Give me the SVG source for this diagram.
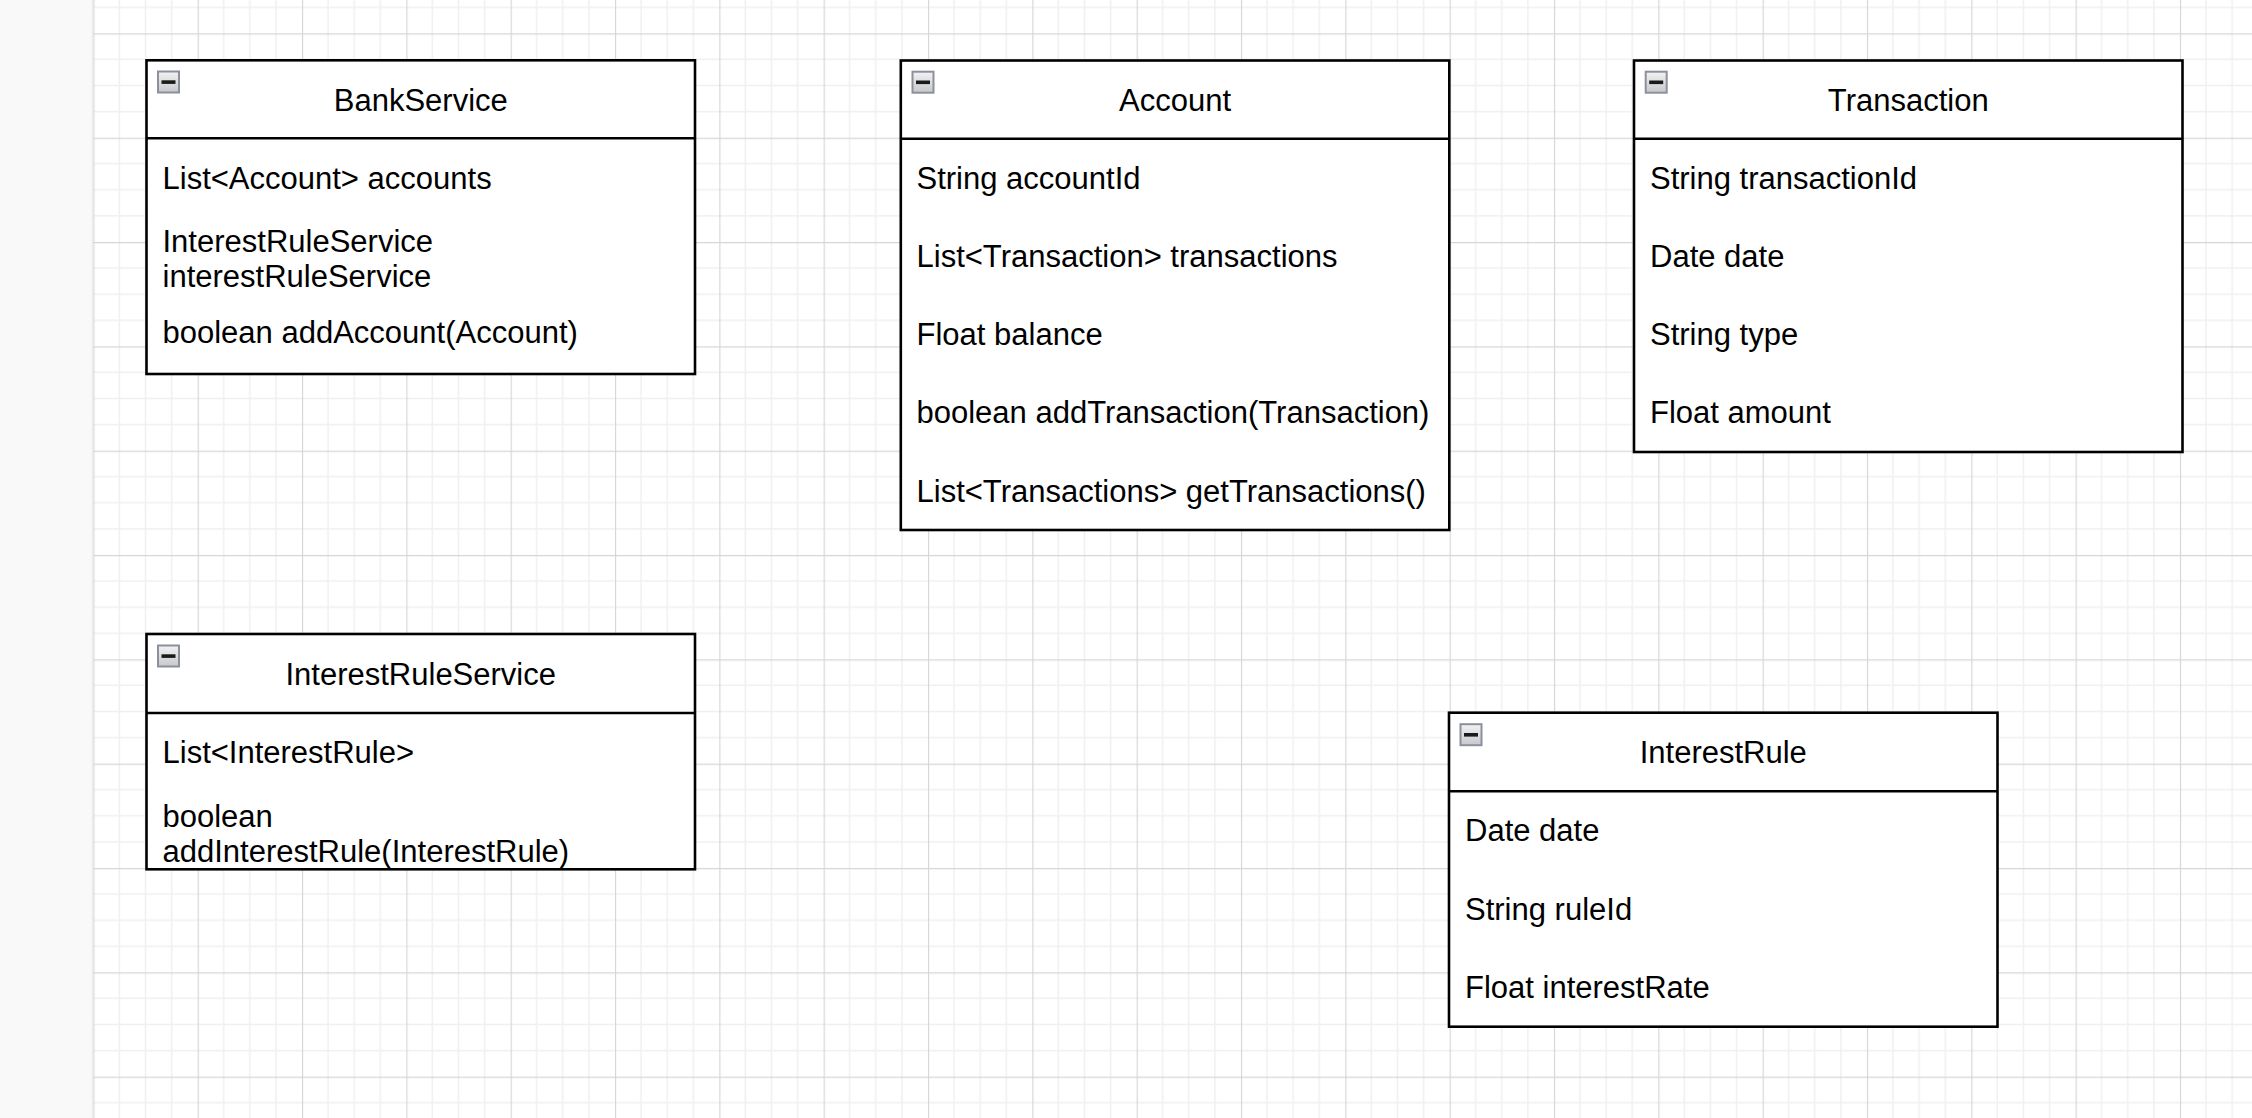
<svg xmlns="http://www.w3.org/2000/svg" xmlns:xlink="http://www.w3.org/1999/xlink" width="2252" height="1118" viewBox="0 0 2252 1118">
<style>
.box{fill:#ffffff;stroke:#000000;stroke-width:2.6}
.div{stroke:#000000;stroke-width:2.6}
.t{font-family:"Liberation Sans",Arial,Helvetica,sans-serif;font-size:31px;fill:#000000}
.title{text-anchor:middle}
</style>
<defs>
<pattern id="grid" patternUnits="userSpaceOnUse" x="93.33" y="33.33" width="104.33" height="104.33">
<path d="M26.08 0V104.33M52.17 0V104.33M78.25 0V104.33M0 26.08H104.33M0 52.17H104.33M0 78.25H104.33" stroke="#f0f0f0" stroke-width="1.6" fill="none"/>
<path d="M0.5 0V104.33M0 0.5H104.33" stroke="#d6d6d6" stroke-width="1.3" fill="none"/>
</pattern>
<linearGradient id="btn" x1="0" y1="0" x2="0" y2="1">
<stop offset="0" stop-color="#f2f2f4"/>
<stop offset="1" stop-color="#c6c8cc"/>
</linearGradient>
<g id="collapse">
<rect x="1" y="1" width="21" height="21" fill="url(#btn)" stroke="#8c909a" stroke-width="2"/>
<rect x="4.5" y="9.8" width="14" height="3.6" fill="#1a1a1a"/>
</g>
</defs>
<rect x="0" y="0" width="2252" height="1118" fill="#ffffff"/>
<rect x="0" y="0" width="92.5" height="1118" fill="#f9f9f9"/>
<rect x="92.5" y="0" width="2159.5" height="1118" fill="url(#grid)"/>
<line x1="92.5" y1="0" x2="92.5" y2="1118" stroke="#ececec" stroke-width="1.5"/>

<g id="connectors"></g>

<g id="BankService">
<rect class="box" x="146.5" y="60.3" width="548.5" height="313.7"/>
<line class="div" x1="146.5" y1="138.3" x2="695" y2="138.3"/>
<use xlink:href="#collapse" x="157" y="70.5"/>
<text class="t title" x="420.75" y="110.5">BankService</text>
<text class="t" x="162.5" y="189.3">List&lt;Account&gt; accounts</text>
<text class="t" x="162.5" y="252.3">InterestRuleService</text>
<text class="t" x="162.5" y="287.3">interestRuleService</text>
<text class="t" x="162.5" y="343.3">boolean addAccount(Account)</text>
</g>

<g id="Account">
<rect class="box" x="900.8" y="60.5" width="548.5" height="469.5"/>
<line class="div" x1="900.8" y1="138.7" x2="1449.3" y2="138.7"/>
<use xlink:href="#collapse" x="911.5" y="70.7"/>
<text class="t title" x="1175" y="110.7">Account</text>
<text class="t" x="916.5" y="188.8">String accountId</text>
<text class="t" x="916.5" y="267">List&lt;Transaction&gt; transactions</text>
<text class="t" x="916.5" y="345.2">Float balance</text>
<text class="t" x="916.5" y="423.4">boolean addTransaction(Transaction)</text>
<text class="t" x="916.5" y="501.6">List&lt;Transactions&gt; getTransactions()</text>
</g>

<g id="Transaction">
<rect class="box" x="1634" y="60.5" width="548.5" height="391.5"/>
<line class="div" x1="1634" y1="138.7" x2="2182.5" y2="138.7"/>
<use xlink:href="#collapse" x="1644.7" y="70.7"/>
<text class="t title" x="1908.25" y="110.7">Transaction</text>
<text class="t" x="1650" y="188.8">String transactionId</text>
<text class="t" x="1650" y="267">Date date</text>
<text class="t" x="1650" y="345.2">String type</text>
<text class="t" x="1650" y="423.4">Float amount</text>
</g>

<g id="InterestRuleService">
<rect class="box" x="146.5" y="634" width="548.5" height="235.3"/>
<line class="div" x1="146.5" y1="713" x2="695" y2="713"/>
<use xlink:href="#collapse" x="157" y="644.5"/>
<text class="t title" x="420.75" y="684.8">InterestRuleService</text>
<text class="t" x="162.5" y="762.5">List&lt;InterestRule&gt;</text>
<text class="t" x="162.5" y="826.7">boolean</text>
<text class="t" x="162.5" y="861.7">addInterestRule(InterestRule)</text>
</g>

<g id="InterestRule">
<rect class="box" x="1449" y="712.7" width="548.5" height="314"/>
<line class="div" x1="1449" y1="791.2" x2="1997.5" y2="791.2"/>
<use xlink:href="#collapse" x="1459.5" y="723.2"/>
<text class="t title" x="1723.25" y="763">InterestRule</text>
<text class="t" x="1465" y="841">Date date</text>
<text class="t" x="1465" y="919.5">String ruleId</text>
<text class="t" x="1465" y="997.5">Float interestRate</text>
</g>
</svg>
